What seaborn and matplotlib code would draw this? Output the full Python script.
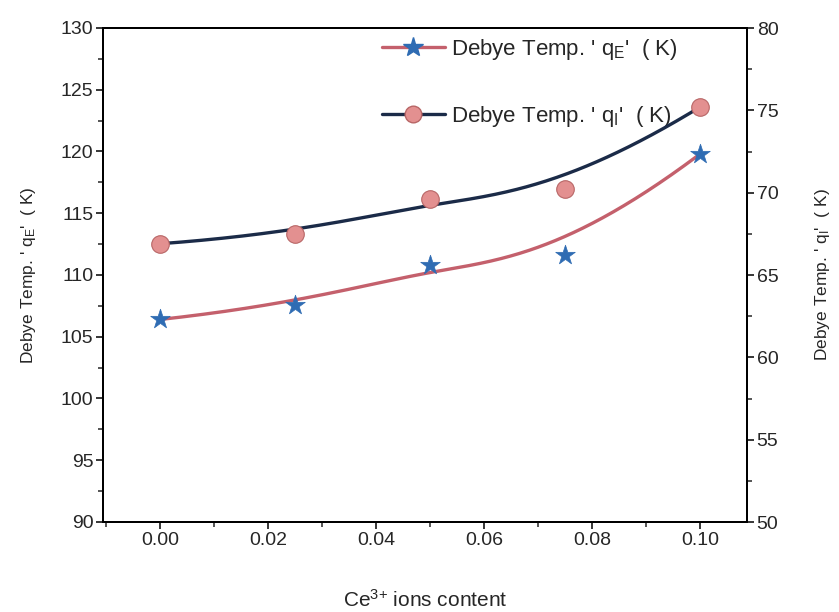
import numpy as np
import pandas as pd
import matplotlib
matplotlib.use("Agg")
import matplotlib.pyplot as plt
from matplotlib.ticker import MultipleLocator, FormatStrFormatter
from matplotlib.lines import Line2D
import seaborn as sns

# data
ce_content = [0.000, 0.025, 0.050, 0.075, 0.100]
theta_E = [106.4, 107.6, 110.8, 111.6, 119.8]
theta_I = [66.9, 67.5, 69.6, 70.2, 75.2]

label_E = "Debye Temp. ' q$_\\mathregular{E}$'  ( K)"
label_I = "Debye Temp. ' q$_\\mathregular{I}$'  ( K)"


def bspline(xs, ys, n=300):
    """Clamped cubic B-spline connector using the data points as control points."""
    P = np.column_stack([xs, ys]).astype(float)
    m = len(P)
    k = 3
    inner = np.linspace(0, 1, m - k + 1)[1:-1]
    knots = np.concatenate([[0] * (k + 1), inner, [1] * (k + 1)])
    t = np.linspace(0, 1, n)
    t[-1] -= 1e-12

    def N(i, p, tt):
        if p == 0:
            return ((knots[i] <= tt) & (tt < knots[i + 1])).astype(float)
        a = 0.0
        d1 = knots[i + p] - knots[i]
        if d1 > 0:
            a = (tt - knots[i]) / d1 * N(i, p - 1, tt)
        b = 0.0
        d2 = knots[i + p + 1] - knots[i + 1]
        if d2 > 0:
            b = (knots[i + p + 1] - tt) / d2 * N(i + 1, p - 1, tt)
        return a + b

    B = np.column_stack([N(i, k, t) for i in range(m)])
    C = B @ P
    return C[:, 0], C[:, 1]


sns.set_style("ticks")
plt.rcParams["font.family"] = ["Liberation Sans", "DejaVu Sans"]
plt.rcParams["mathtext.default"] = "regular"

df = pd.DataFrame({"x": ce_content, "E": theta_E, "I": theta_I})
sxE, syE = bspline(ce_content, theta_E)
sxI, syI = bspline(ce_content, theta_I)

fig = plt.figure(figsize=(8.39, 6.12), dpi=100)
ax = fig.add_axes([103 / 839, 1 - 522 / 612, (747 - 103) / 839, (522 - 28) / 612])
ax2 = ax.twinx()

line_E = "#c4606c"
star_c = "#2f6cb3"
line_I = "#1b2b48"
circ_c = "#e39090"
circ_e = "#b86666"

sns.lineplot(x=sxE, y=syE, sort=False, estimator=None, ax=ax, color=line_E, lw=2.4)
sns.scatterplot(data=df, x="x", y="E", ax=ax, marker="*", s=220, color=star_c,
                edgecolor=star_c, linewidth=0.5, zorder=5)

sns.lineplot(x=sxI, y=syI, sort=False, estimator=None, ax=ax2, color=line_I, lw=2.4)
sns.scatterplot(data=df, x="x", y="I", ax=ax2, marker="o", s=160, color=circ_c,
                edgecolor=circ_e, linewidth=0.8, zorder=5)

ax.set_xlim(-0.0106, 0.1087)
ax.set_ylim(90, 130)
ax2.set_ylim(50, 80)
ax.xaxis.set_major_locator(MultipleLocator(0.02))
ax.xaxis.set_minor_locator(MultipleLocator(0.01))
ax.yaxis.set_major_locator(MultipleLocator(5))
ax.yaxis.set_minor_locator(MultipleLocator(2.5))
ax2.yaxis.set_major_locator(MultipleLocator(5))
ax2.yaxis.set_minor_locator(MultipleLocator(2.5))
ax.xaxis.set_major_formatter(FormatStrFormatter("%.2f"))

for a in (ax, ax2):
    for s in a.spines.values():
        s.set_visible(True)
        s.set_linewidth(1.4)
        s.set_color("black")
    a.tick_params(which="major", direction="out", length=5, width=1.3,
                  labelsize=14, pad=2)
    a.tick_params(which="minor", direction="out", length=3.5, width=1.1)

ax.set_xlabel("Ce$^{3{+}}$ ions content", fontsize=15, labelpad=29)
ax.set_ylabel(label_E, fontsize=12.5, labelpad=16)
ax2.set_ylabel(label_I, fontsize=12.5, rotation=90, labelpad=25)

handles = [
    Line2D([], [], color=line_E, lw=2.4, marker="*", markersize=15,
           markerfacecolor=star_c, markeredgecolor=star_c),
    Line2D([], [], color=line_I, lw=2.4, marker="o", markersize=12,
           markerfacecolor=circ_c, markeredgecolor=circ_e),
]
leg = ax.legend(handles, [label_E, label_I], loc="upper left",
                bbox_to_anchor=(0.42, 1.0), frameon=False, fontsize=16,
                labelspacing=1.9, handlelength=2.8, handletextpad=0.3,
                borderaxespad=0)

fig.savefig("out.png", dpi=100)
